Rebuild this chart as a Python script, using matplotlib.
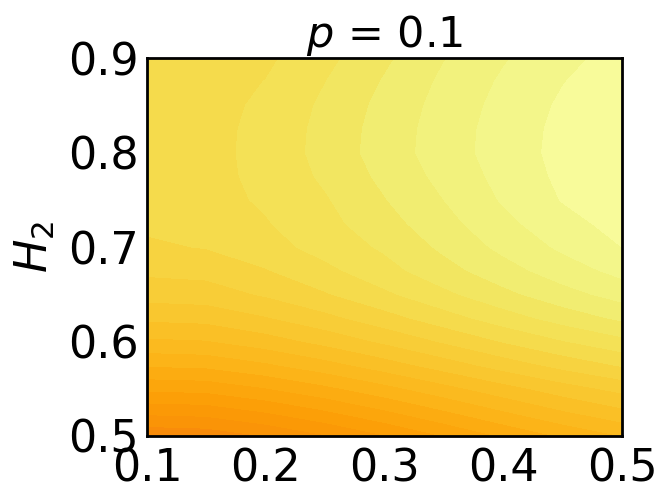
import numpy as np
import matplotlib
matplotlib.use("Agg")
import matplotlib.pyplot as plt
from matplotlib.colors import Normalize

# grid coordinates (x: horizontal axis, H2: vertical axis)
x_vals = [0.10, 0.15, 0.20, 0.25, 0.30, 0.35, 0.40, 0.45, 0.50]
h2_vals = [0.500, 0.525, 0.550, 0.575, 0.600, 0.625, 0.650, 0.675, 0.700,
           0.725, 0.750, 0.775, 0.800, 0.825, 0.850, 0.875, 0.900]

# field values (in contour-level units), one row per H2 value
row_500 = [0.2, 0.34, 1.02, 1.9, 2.92, 4.01, 5.1, 6.12, 7.0]
row_525 = [2.2, 2.33, 2.98, 3.83, 4.8, 5.84, 6.88, 7.86, 8.7]
row_550 = [4.2, 4.32, 4.93, 5.73, 6.64, 7.62, 8.59, 9.51, 10.3]
row_575 = [6.1, 6.22, 6.82, 7.6, 8.5, 9.46, 10.42, 11.32, 12.1]
row_600 = [7.8, 7.92, 8.51, 9.28, 10.16, 11.1, 12.05, 12.93, 13.7]
row_625 = [9.2, 9.32, 9.92, 10.7, 11.6, 12.56, 13.52, 14.42, 15.2]
row_650 = [10.4, 10.52, 11.12, 11.9, 12.8, 13.76, 14.72, 15.62, 16.4]
row_675 = [11.2, 11.32, 11.93, 12.73, 13.64, 14.62, 15.59, 16.51, 17.3]
row_700 = [11.85, 12.05, 12.6, 13.38, 14.15, 15.2, 16.25, 17.18, 18.0]
row_725 = [12.17, 12.37, 12.92, 13.69, 14.6, 15.65, 16.72, 17.66, 18.35]
row_750 = [12.4, 12.6, 13.15, 13.9, 14.95, 16.0, 17.1, 18.05, 18.6]
row_775 = [12.48, 12.68, 13.26, 14.17, 15.24, 16.29, 17.31, 18.21, 18.76]
row_800 = [12.5, 12.7, 13.3, 14.35, 15.45, 16.5, 17.45, 18.3, 18.85]
row_825 = [12.48, 12.69, 13.27, 14.31, 15.41, 16.47, 17.42, 18.26, 18.82]
row_850 = [12.43, 12.65, 13.18, 14.19, 15.29, 16.36, 17.31, 18.15, 18.74]
row_875 = [12.33, 12.59, 13.02, 13.98, 15.08, 16.19, 17.14, 17.96, 18.6]
row_900 = [12.2, 12.5, 12.8, 13.7, 14.8, 15.95, 16.9, 17.7, 18.4]

levels = list(range(0, 20))
x_ticks = [0.1, 0.2, 0.3, 0.4, 0.5]
y_ticks = [0.5, 0.6, 0.7, 0.8, 0.9]
title = r"$p$ = 0.1"
ylabel = r"$H_2$"

Z = np.array([row_500, row_525, row_550, row_575, row_600, row_625, row_650,
              row_675, row_700, row_725, row_750, row_775, row_800, row_825,
              row_850, row_875, row_900])
X, Y = np.meshgrid(x_vals, h2_vals)

fig = plt.figure(figsize=(6.64, 4.98), dpi=100)
ax = fig.add_axes([0.2214, 0.1245, 0.9367 - 0.2214, 0.8835 - 0.1245])
ax.contourf(X, Y, Z, levels=levels, cmap="inferno",
            norm=Normalize(vmin=-56.9, vmax=19.65))
ax.set_xlim(0.1, 0.5)
ax.set_ylim(0.5, 0.9)
ax.set_xticks(x_ticks)
ax.set_yticks(y_ticks)
ax.set_xticklabels([f"{v:.1f}" for v in x_ticks])
ax.set_yticklabels([f"{v:.1f}" for v in y_ticks])
ax.tick_params(axis="both", length=0, labelsize=32)
ax.tick_params(axis="x", pad=8)
ax.tick_params(axis="y", pad=6)
for s in ax.spines.values():
    s.set_linewidth(2.0)
ax.set_title(title, fontsize=31, pad=2)
ax.set_ylabel(ylabel, fontsize=32, labelpad=8)
fig.savefig("out.png", dpi=100)
